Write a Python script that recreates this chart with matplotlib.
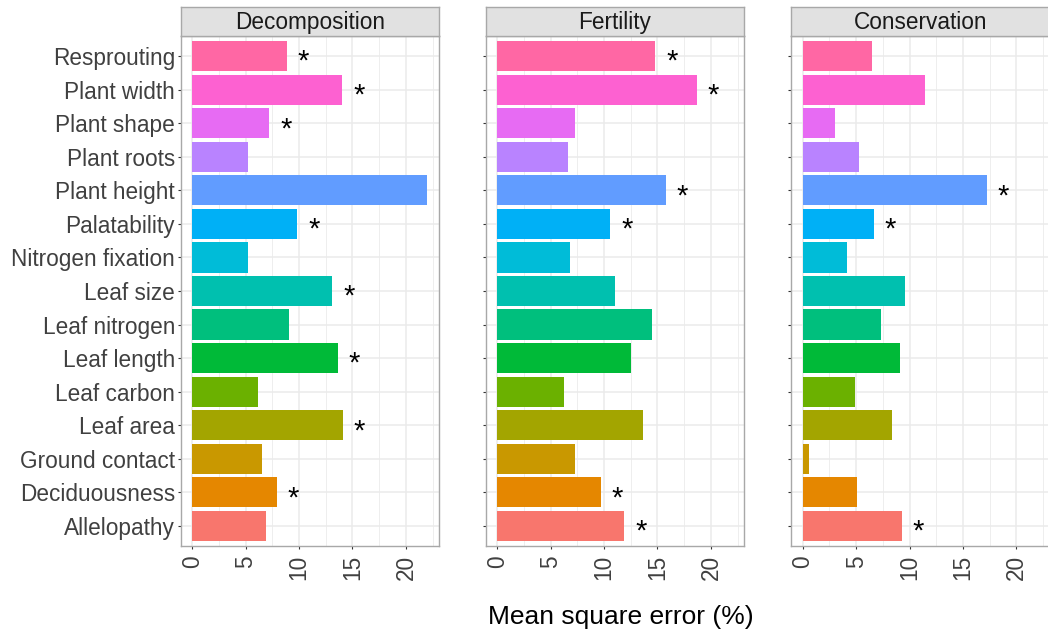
import numpy as np
import matplotlib
matplotlib.use("Agg")
import matplotlib.pyplot as plt

plt.rcParams['font.family'] = ['Liberation Sans', 'DejaVu Sans']

# traits, bottom to top (ggplot order)
traits = ["Allelopathy", "Deciduousness", "Ground contact", "Leaf area",
          "Leaf carbon", "Leaf length", "Leaf nitrogen", "Leaf size",
          "Nitrogen fixation", "Palatability", "Plant height", "Plant roots",
          "Plant shape", "Plant width", "Resprouting"]

facets = ["Decomposition", "Fertility", "Conservation"]

decomposition = [6.9, 7.9, 6.5, 14.1, 6.2, 13.6, 9.05, 13.1,
                 5.2, 9.85, 22.0, 5.2, 7.2, 14.05, 8.85]
fertility = [11.9, 9.7, 7.25, 13.6, 6.25, 12.5, 14.5, 11.0,
             6.8, 10.6, 15.8, 6.65, 7.25, 18.7, 14.8]
conservation = [9.3, 5.1, 0.6, 8.35, 4.9, 9.15, 7.35, 9.6,
                4.15, 6.65, 17.25, 5.25, 3.05, 11.45, 6.45]

# significant (*) flags
decomposition_sig = [0, 1, 0, 1, 0, 1, 0, 1, 0, 1, 1, 0, 1, 1, 1]
fertility_sig = [1, 1, 0, 0, 0, 0, 0, 0, 0, 1, 1, 0, 0, 1, 1]
conservation_sig = [1, 0, 0, 0, 0, 0, 0, 0, 0, 1, 1, 0, 0, 0, 0]

x_ticks = [0, 5, 10, 15, 20]

# ggplot hue palette, 15 levels
colors = ["#F8766D", "#E58700", "#C99800", "#A3A500", "#6BB100", "#00BA38",
          "#00BF7D", "#00C0AF", "#00BCD8", "#00B0F6", "#619CFF", "#B983FF",
          "#E76BF3", "#FD61D1", "#FF67A4"]

values = [decomposition, fertility, conservation]
sigs = [decomposition_sig, fertility_sig, conservation_sig]

W, H = 1048, 635
fig = plt.figure(figsize=(W / 100, H / 100), dpi=100)

panel_left = [180.5, 485.5, 791.0]
panel_w = 258.5
panel_top, panel_bot = 36, 546
strip_top = 7
border = "#A8A8A8"
grid_c = "#EBEBEB"
y = np.arange(len(traits))

for k in range(3):
    ax = fig.add_axes([panel_left[k] / W, (H - panel_bot) / H,
                       panel_w / W, (panel_bot - panel_top) / H])
    ax.barh(y, values[k], height=0.9, color=colors, zorder=2)
    for i, v in enumerate(values[k]):
        if sigs[k][i]:
            ax.annotate("*", (v + 1.55, i), xytext=(0, -10),
                        textcoords="offset points", ha="center",
                        va="baseline", fontsize=21, color="black")
    ax.set_xlim(-1.1, 23.1)
    ax.set_ylim(-0.6, len(traits) - 0.4)
    ax.set_xticks(x_ticks)
    ax.set_xticks([2.5, 7.5, 12.5, 17.5, 22.5], minor=True)
    ax.set_yticks(y)
    ax.set_xticklabels([str(t) for t in x_ticks], rotation=90)
    if k == 0:
        ax.set_yticklabels(traits)
    else:
        ax.set_yticklabels([])
    ax.grid(True, which="major", color=grid_c, linewidth=1.1, zorder=0)
    ax.grid(True, which="minor", axis="x", color=grid_c, linewidth=0.6, zorder=0)
    ax.set_axisbelow(True)
    ax.tick_params(axis="both", which="major", length=2.5, width=0.8,
                   color="#333333", labelcolor="#404040", labelsize=16.3)
    ax.tick_params(axis="y", pad=1.5)
    ax.tick_params(axis="x", pad=4)
    ax.tick_params(which="minor", length=0)
    for s in ax.spines.values():
        s.set_color(border)
        s.set_linewidth(1.0)

    # facet strip
    st = fig.add_axes([panel_left[k] / W, (H - panel_top) / H,
                       panel_w / W, (panel_top - strip_top) / H])
    st.set_facecolor("#E1E1E1")
    st.set_xticks([])
    st.set_yticks([])
    for s in st.spines.values():
        s.set_color(border)
        s.set_linewidth(1.0)
    st.text(0.5, 0.45, facets[k], ha="center", va="center",
            fontsize=16.3, color="#1A1A1A", transform=st.transAxes)

fig.text(621 / W, 1 - 617 / H, "Mean square error (%)", ha="center",
         va="center", fontsize=19, color="black")

fig.savefig("out.png", dpi=100)
